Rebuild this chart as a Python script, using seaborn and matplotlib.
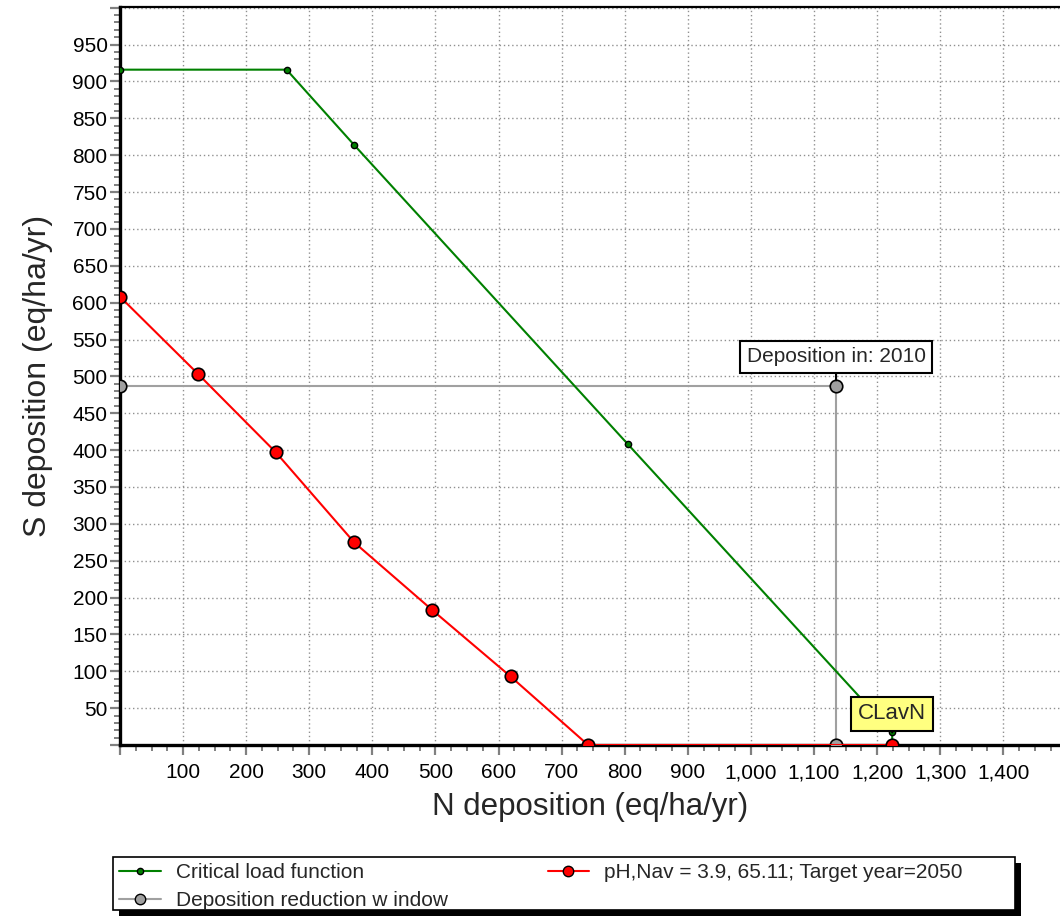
import matplotlib
matplotlib.use("Agg")
import matplotlib.pyplot as plt
import numpy as np
import pandas as pd
import seaborn as sns
from matplotlib.ticker import MultipleLocator, FuncFormatter
from matplotlib.lines import Line2D
from matplotlib.patches import Rectangle

# ---- data ----
cl_n = [0, 264, 371, 805, 1224, 1224]
cl_s = [916, 916, 814, 408, 17, 0]

ph_n = [0, 124, 247, 371, 495, 619, 742, 1224]
ph_s = [608, 503, 397, 275, 183, 93, 0, 0]

win_n = [0, 1135, 1135]
win_s = [487, 487, 0]

label_cl = "Critical load function"
label_ph = "pH,Nav = 3.9, 65.11; Target year=2050"
label_win = "Deposition reduction w indow"
ann_dep = "Deposition in: 2010"
ann_clav = "CLavN"

sns.set_style("white")
plt.rcParams['font.family'] = ['Liberation Sans', 'DejaVu Sans']

W, H = 1060, 922
fig = plt.figure(figsize=(W / 100, H / 100), dpi=100)
ax = fig.add_axes([120 / W, 1 - 745 / H, 1 - 120 / W, (745 - 7) / H])

df_cl = pd.DataFrame({"N": cl_n, "S": cl_s})
df_ph = pd.DataFrame({"N": ph_n, "S": ph_s})
df_win = pd.DataFrame({"N": win_n, "S": win_s})

sns.lineplot(data=df_win, x="N", y="S", sort=False, estimator=None, ax=ax,
             color="#a0a0a0", linewidth=1.5, marker="o", markersize=9,
             markerfacecolor="#a0a0a0", markeredgecolor="black", markeredgewidth=1.2,
             zorder=3)
sns.lineplot(data=df_cl, x="N", y="S", sort=False, estimator=None, ax=ax,
             color="#008000", linewidth=1.5, marker="o", markersize=4.5,
             markerfacecolor="#008000", markeredgecolor="black", markeredgewidth=1.0,
             zorder=4)
sns.lineplot(data=df_ph, x="N", y="S", sort=False, estimator=None, ax=ax,
             color="#ff0000", linewidth=1.5, marker="o", markersize=9,
             markerfacecolor="#ff0000", markeredgecolor="black", markeredgewidth=1.2,
             zorder=5)

ax.set_xlim(0, 1490)
ax.set_ylim(0, 1001)

ax.xaxis.set_major_locator(MultipleLocator(100))
ax.xaxis.set_minor_locator(MultipleLocator(25))
ax.yaxis.set_major_locator(MultipleLocator(50))
ax.yaxis.set_minor_locator(MultipleLocator(10))
ax.xaxis.set_major_formatter(FuncFormatter(lambda v, p: "" if v <= 0 else f"{v:,.0f}"))
ax.yaxis.set_major_formatter(FuncFormatter(lambda v, p: "" if (v <= 0 or v >= 1000) else f"{v:,.0f}"))

ax.grid(True, which="major", color="#909090", linestyle=(0, (1, 2)), linewidth=1.0)
ax.set_axisbelow(True)

ax.tick_params(axis="both", which="major", direction="out", length=7, width=1.6,
               color="#808080", labelsize=15, labelcolor="black")
ax.tick_params(axis="x", which="major", pad=6)
ax.tick_params(axis="y", which="major", pad=2)
ax.tick_params(axis="both", which="minor", direction="out", length=4, width=1.4,
               color="#808080")
ax.tick_params(axis="both", which="both", bottom=True, left=True, top=False, right=False)

for side in ["left", "bottom"]:
    ax.spines[side].set_linewidth(2.4)
    ax.spines[side].set_color("black")
ax.spines["top"].set_linewidth(1.6)
ax.spines["top"].set_color("black")
ax.spines["right"].set_visible(False)

ax.set_xlabel("N deposition (eq/ha/yr)", fontsize=22.5, labelpad=7)
ax.set_ylabel("S deposition (eq/ha/yr)", fontsize=23, labelpad=14)

# annotations
ax.annotate(ann_dep, xy=(win_n[1], win_s[1]), xytext=(0, 21), textcoords="offset points",
            ha="center", va="center", fontsize=15, zorder=6,
            bbox=dict(boxstyle="square,pad=0.32", facecolor="white", edgecolor="black", linewidth=1.5),
            arrowprops=dict(arrowstyle="-", color="black", linewidth=1.5, shrinkA=0, shrinkB=4))
ax.annotate(ann_clav, xy=(cl_n[4], cl_s[4]), xytext=(0, 13.5), textcoords="offset points",
            ha="center", va="center", fontsize=16, zorder=6,
            bbox=dict(boxstyle="square,pad=0.3", facecolor="#ffff80", edgecolor="black", linewidth=1.5),
            arrowprops=dict(arrowstyle="-", color="black", linewidth=1.5, shrinkA=0, shrinkB=2))

# legend frame (box + shadow), drawn in figure pixel coordinates
lx0, lx1, ly0, ly1 = 113, 1015, 857, 910
fig.add_artist(Rectangle(((lx0 + 6) / W, 1 - (ly1 + 6) / H), (lx1 - lx0) / W, (ly1 - ly0) / H,
                         transform=fig.transFigure, facecolor="black", edgecolor="none", zorder=8))
fig.add_artist(Rectangle((lx0 / W, 1 - ly1 / H), (lx1 - lx0) / W, (ly1 - ly0) / H,
                         transform=fig.transFigure, facecolor="white", edgecolor="black",
                         linewidth=1.2, zorder=9))

handles = [
    Line2D([], [], color="#008000", linewidth=1.5, marker="o", markersize=4.5,
           markerfacecolor="#008000", markeredgecolor="black"),
    Line2D([], [], color="#a0a0a0", linewidth=1.5, marker="o", markersize=7.5,
           markerfacecolor="#a0a0a0", markeredgecolor="black"),
    Line2D([], [], color="#ff0000", linewidth=1.5, marker="o", markersize=7.5,
           markerfacecolor="#ff0000", markeredgecolor="black"),
]
labels = [label_cl, label_win, label_ph]
leg = fig.legend(handles, labels, loc="upper left", ncol=2,
                 bbox_to_anchor=(lx0 / W, 1 - ly0 / H),
                 fontsize=15, frameon=False,
                 borderaxespad=0, borderpad=0.3, labelspacing=0.42,
                 handlelength=2.0, handletextpad=0.7, columnspacing=4.8)
leg.set_zorder(10)

fig.savefig("out.png", dpi=100)
